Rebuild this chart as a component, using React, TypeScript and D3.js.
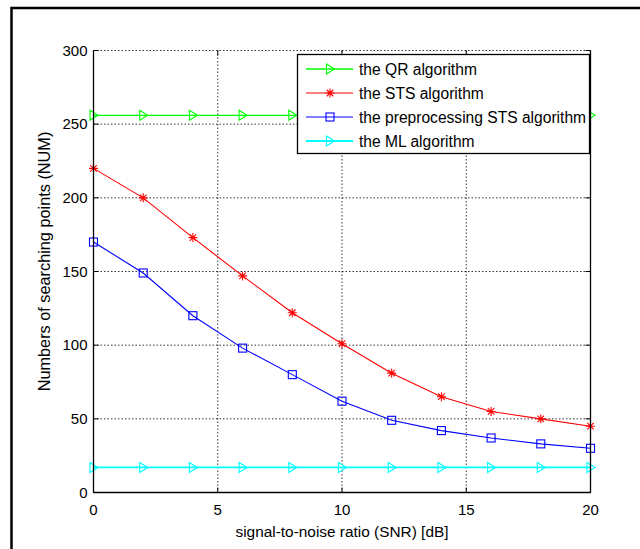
import React from "react";
import * as d3 from "d3";

const snr = [0, 2, 4, 6, 8, 10, 12, 14, 16, 18, 20];
const qrValues = [256, 256, 256, 256, 256, 256, 256, 256, 256, 256, 256];
const stsValues = [220, 200, 173, 147, 122, 101, 81, 65, 55, 50, 45];
const preStsValues = [170, 149, 120, 98, 80, 62, 49, 42, 37, 33, 30];
const mlValues = [17, 17, 17, 17, 17, 17, 17, 17, 17, 17, 17];
const xTicks = [0, 5, 10, 15, 20];
const yTicks = [0, 50, 100, 150, 200, 250, 300];
const seriesNames = [
  "the QR algorithm",
  "the STS algorithm",
  "the preprocessing STS algorithm",
  "the ML algorithm",
];

const W = 640;
const H = 549;
const L = 93.5, R = 590.5, T = 50.5, B = 492.5;
const FONT = "'Liberation Sans', Arial, Helvetica, sans-serif";

type Series = { name: string; values: number[]; color: string; marker: string; width: number };

const series: Series[] = [
  { name: seriesNames[0], values: qrValues, color: "#00ff00", marker: "tri", width: 1.4 },
  { name: seriesNames[1], values: stsValues, color: "#ff0000", marker: "star", width: 1.1 },
  { name: seriesNames[2], values: preStsValues, color: "#0000ff", marker: "square", width: 1.1 },
  { name: seriesNames[3], values: mlValues, color: "#00ffff", marker: "tri", width: 1.8 },
];

function Marker({ kind, x, y, color }: { kind: string; x: number; y: number; color: string }) {
  if (kind === "tri") {
    return (
      <path
        d={`M${x - 3.5},${y - 5}L${x + 4.5},${y}L${x - 3.5},${y + 5}Z`}
        fill="none"
        stroke={color}
        strokeWidth={1.1}
      />
    );
  }
  if (kind === "square") {
    return <rect x={x - 4} y={y - 4} width={8} height={8} fill="none" stroke={color} strokeWidth={1.1} />;
  }
  const r = 4.5;
  const d = r * 0.72;
  return (
    <path
      d={`M${x},${y - r}V${y + r}M${x - r},${y}H${x + r}M${x - d},${y - d}L${x + d},${y + d}M${x - d},${y + d}L${x + d},${y - d}`}
      stroke={color}
      strokeWidth={1.1}
      fill="none"
    />
  );
}

export default function App() {
  const x = d3.scaleLinear().domain([0, 20]).range([L, R]);
  const y = d3.scaleLinear().domain([0, 300]).range([B, T]);
  const line = d3
    .line<number>()
    .x((_, i) => x(snr[i]))
    .y((v) => y(v));

  const legX = 297.5, legY = 54.5, legW = 292, legH = 99;
  const rowY = [69, 93, 117, 141];

  return (
    <svg
      width={W}
      height={H}
      style={{ position: "absolute", left: 0, top: 0, background: "#fff" }}
      fontFamily={FONT}
    >
      <rect x={0} y={0} width={W} height={H} fill="#fff" />
      {/* outer frame */}
      <rect x={11.5} y={8} width={W} height={H} fill="none" stroke="#000" strokeWidth={2.5} />

      {/* grid */}
      {xTicks.slice(1, -1).map((t) => (
        <line key={"gx" + t} x1={x(t)} x2={x(t)} y1={T} y2={B} stroke="#000" strokeWidth={0.8} strokeDasharray="1.5,2" />
      ))}
      {yTicks.slice(1, -1).map((t) => (
        <line key={"gy" + t} x1={L} x2={R} y1={y(t)} y2={y(t)} stroke="#000" strokeWidth={0.8} strokeDasharray="1.5,2" />
      ))}
      <line x1={L} x2={R} y1={T} y2={T} stroke="#000" strokeWidth={0.8} strokeDasharray="1.5,2" />

      {/* ticks */}
      {xTicks.map((t) => (
        <g key={"tx" + t}>
          <line x1={x(t)} x2={x(t)} y1={B} y2={B - 5} stroke="#000" />
          <line x1={x(t)} x2={x(t)} y1={T} y2={T + 5} stroke="#000" />
          <text x={x(t)} y={B + 22} textAnchor="middle" fontSize={15} fill="#000">
            {t}
          </text>
        </g>
      ))}
      {yTicks.map((t) => (
        <g key={"ty" + t}>
          <line x1={L} x2={L + 5} y1={y(t)} y2={y(t)} stroke="#000" />
          <line x1={R} x2={R - 5} y1={y(t)} y2={y(t)} stroke="#000" />
          <text x={L - 6} y={y(t) + 5} textAnchor="end" fontSize={15} fill="#000">
            {t}
          </text>
        </g>
      ))}

      {/* series */}
      {series.map((s) => (
        <g key={s.name}>
          <path d={line(s.values) || ""} fill="none" stroke={s.color} strokeWidth={s.width} />
          {s.values.map((v, i) => (
            <Marker key={i} kind={s.marker} x={x(snr[i])} y={y(v)} color={s.color} />
          ))}
        </g>
      ))}

      {/* axes box */}
      <line x1={L} x2={L} y1={T} y2={B} stroke="#000" strokeWidth={1.3} />
      <line x1={L} x2={R} y1={B} y2={B} stroke="#000" strokeWidth={1.3} />
      <line x1={R} x2={R} y1={T} y2={B} stroke="#000" strokeWidth={1.3} />

      {/* legend */}
      <rect x={legX} y={legY} width={legW} height={legH} fill="#fff" stroke="#000" strokeWidth={1.3} />
      {series.map((s, i) => (
        <g key={"leg" + i}>
          <line x1={306} x2={353} y1={rowY[i]} y2={rowY[i]} stroke={s.color} strokeWidth={s.width} />
          <Marker kind={s.marker} x={330} y={rowY[i]} color={s.color} />
          <text x={359} y={rowY[i] + 5.5} fontSize={15.6} fill="#000">
            {s.name}
          </text>
        </g>
      ))}

      {/* axis labels */}
      <text x={(L + R) / 2} y={537} textAnchor="middle" fontSize={15.4} fill="#000">
        signal-to-noise ratio (SNR) [dB]
      </text>
      <text
        transform={`translate(50, ${(T + B) / 2 - 10}) rotate(-90)`}
        textAnchor="middle"
        fontSize={16.3}
        fill="#000"
      >
        Numbers of searching points (NUM)
      </text>
    </svg>
  );
}
